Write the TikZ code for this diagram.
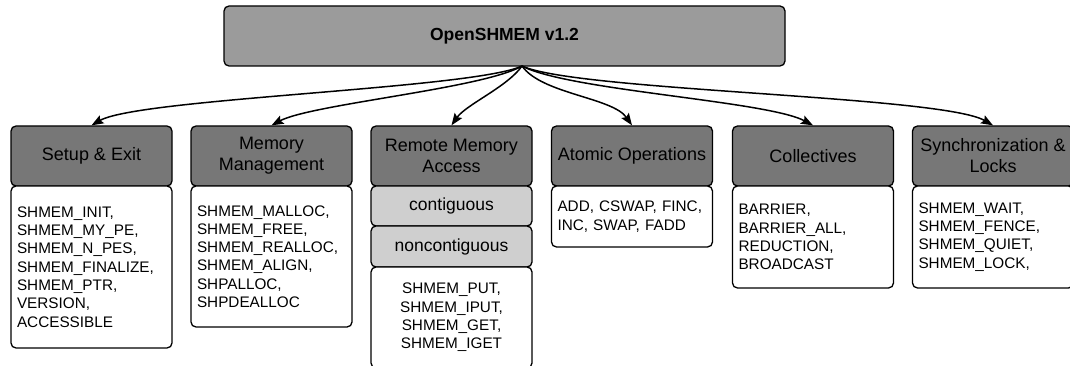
\documentclass[tikz,border=0pt]{standalone}
\usepackage{fontspec}
\setmainfont{Liberation Sans}
\usetikzlibrary{arrows.meta}
\definecolor{topgray}{RGB}{155,155,155}
\definecolor{headgray}{RGB}{119,119,119}
\definecolor{subgray}{RGB}{207,207,207}
\tikzset{
  box/.style={draw, line width=1.3pt, rounded corners=5pt, minimum width=161pt, inner xsep=6pt, inner ysep=0pt},
  head/.style={box, fill=headgray, minimum height=60pt, align=center, font=\fontsize{18}{21}\selectfont},
  sub/.style={box, fill=subgray, align=center, font=\fontsize{17.5}{21}\selectfont},
  list/.style={box, fill=white, text width=149pt, align=left, font=\fontsize{15.3}{18.3}\selectfont},
  conn/.style={-{Stealth[length=12pt,width=9pt,inset=2pt]}, line width=1.5pt}
}

\begin{document}
\begin{tikzpicture}[x=1pt,y=1pt]
    \clip (0,0) rectangle (1070,-366);
    % root
    \node[box, fill=topgray, minimum width=561pt, minimum height=60pt, font=\fontsize{17.5}{20}\selectfont\bfseries] (top) at (504.5,-36) {OpenSHMEM v1.2};
    \coordinate (src) at (522,-66);
    % headers
    \node[head] (h1) at (91.5,-156) {Setup \& Exit};
    \node[head] (h2) at (271.5,-156) {Memory\\Management};
    \node[head] (h3) at (451.5,-156) {Remote Memory\\Access};
    \node[head] (h4) at (632,-156) {Atomic Operations};
    \node[head] (h5) at (813,-156) {Collectives};
    \node[head] (h6) at (993,-156) {Synchronization \&\\Locks};
    % lists
    \node[list, minimum height=162pt] (b1) at (91.5,-267) {SHMEM\_INIT,\\SHMEM\_MY\_PE,\\SHMEM\_N\_PES,\\SHMEM\_FINALIZE,\\SHMEM\_PTR,\\VERSION,\\ACCESSIBLE};
    \node[list, minimum height=141pt] (b2) at (271.5,-256.5) {SHMEM\_MALLOC,\\SHMEM\_FREE,\\SHMEM\_REALLOC,\\SHMEM\_ALIGN,\\SHPALLOC,\\SHPDEALLOC};
    \node[sub, minimum height=40pt] (c3) at (451.5,-206) {contiguous};
    \node[sub, minimum height=41pt] (n3) at (451.5,-246.5) {noncontiguous};
    \node[list, align=center, minimum height=101pt] (b3) at (451.5,-317.5) {SHMEM\_PUT,\\SHMEM\_IPUT,\\SHMEM\_GET,\\SHMEM\_IGET};
    \node[list, minimum height=61pt] (b4) at (632,-216.5) {ADD, CSWAP, FINC,\\INC, SWAP, FADD};
    \node[list, minimum height=102pt] (b5) at (813,-237) {BARRIER,\\BARRIER\_ALL,\\REDUCTION,\\BROADCAST};
    \node[list, minimum height=102pt] (b6) at (993,-237) {SHMEM\_WAIT,\\SHMEM\_FENCE,\\SHMEM\_QUIET,\\SHMEM\_LOCK,};
    % connectors
    \foreach \n/\o/\i/\l in {h1/-155/30/0.32, h2/-150/28/0.45, h3/-125/55/0.7, h4/-55/125/0.7, h5/-28/152/0.45, h6/-25/150/0.32}
      \draw[conn] (src) to[out=\o,in=\i,looseness=\l] (\n.north);
\end{tikzpicture}
\end{document}
